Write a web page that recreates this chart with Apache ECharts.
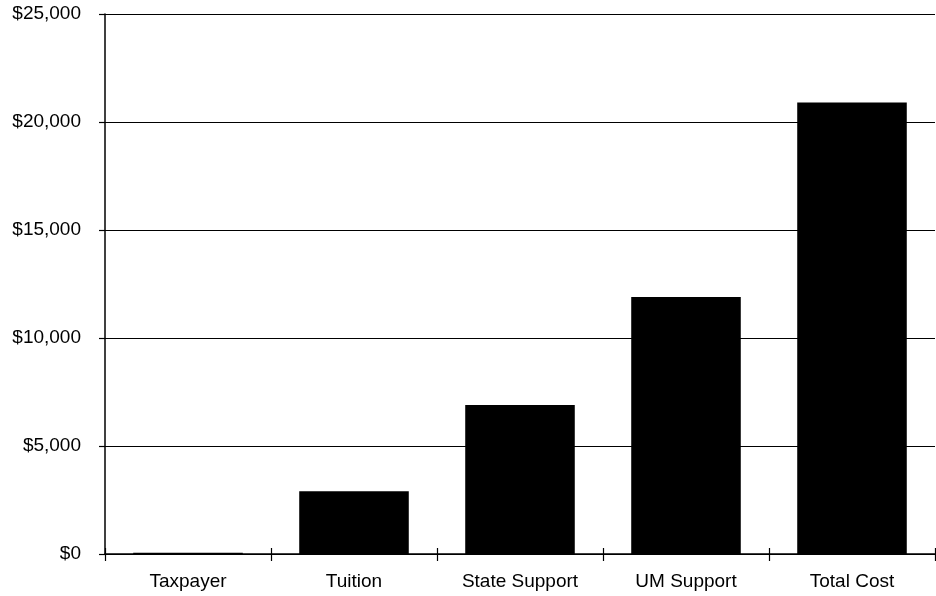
<!DOCTYPE html>
<html><head><meta charset="utf-8">
<script src="https://cdn.jsdelivr.net/npm/echarts@6/dist/echarts.min.js"></script>
<style>html,body{margin:0;padding:0;background:#fff}#c{width:936px;height:596px}</style>
</head><body><div id="c"></div>
<script>
const categories = ['Taxpayer', 'Tuition', 'State Support', 'UM Support', 'Total Cost'];
const values = [60, 2900, 6900, 11900, 20900];
const yTicks = { min: 0, max: 25000, interval: 5000 };

const font = 'Liberation Sans, Arial, Helvetica, sans-serif';
const chart = echarts.init(document.getElementById('c'), null, { renderer: 'canvas' });
chart.setOption({
  animation: false,
  backgroundColor: '#fff',
  grid: { left: 105, right: 1, top: 14, bottom: 42, containLabel: false },
  xAxis: [{
    type: 'category', data: categories, position: 'bottom',
    axisLine: { lineStyle: { color: '#000', width: 1.5 } },
    axisTick: { show: false },
    axisLabel: { color: '#000', fontFamily: font, fontSize: 19, margin: 18 },
    splitLine: { show: false }
  }, {
    type: 'category', data: categories, position: 'bottom', offset: -6,
    axisLine: { show: false },
    axisTick: { show: true, length: 13, inside: false, lineStyle: { color: '#000', width: 1.2 } },
    axisLabel: { show: false },
    splitLine: { show: false }
  }],
  yAxis: {
    type: 'value', min: yTicks.min, max: yTicks.max, interval: yTicks.interval,
    axisLine: { show: true, lineStyle: { color: '#000', width: 1.5 } },
    axisTick: { show: true, length: 6, lineStyle: { color: '#000', width: 1.2 } },
    axisLabel: {
      color: '#000', fontFamily: font, fontSize: 19, margin: 24,
      formatter: v => '$' + v.toLocaleString('en-US')
    },
    splitLine: { show: true, lineStyle: { color: '#000', width: 1 } }
  },
  series: [{
    type: 'bar', data: values, barWidth: '66%', xAxisIndex: 0,
    itemStyle: { color: '#000' }
  }]
});
</script></body></html>
